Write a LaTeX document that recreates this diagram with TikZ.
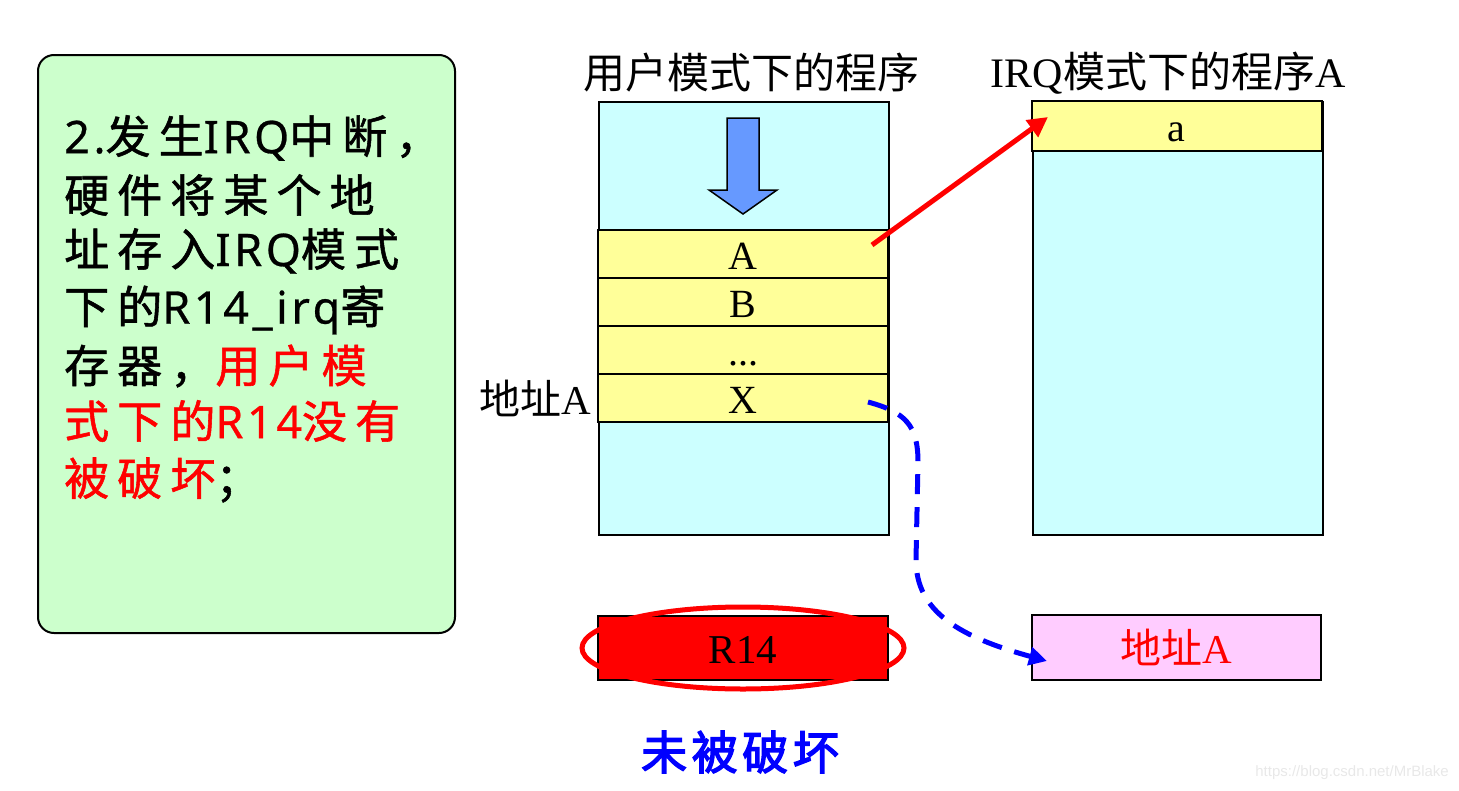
\documentclass[tikz,border=0pt]{standalone}
\usepackage{fontspec}
\setmainfont{Liberation Serif}
\newfontfamily\cjk{Noto Sans CJK SC}
\newfontfamily\cjkw[LetterSpace=18,FakeBold=1.2]{Noto Sans CJK SC}
\newfontfamily\cjkb[LetterSpace=10,FakeBold=3]{Noto Sans CJK SC}
\newfontfamily\latw[LetterSpace=8,FakeBold=0.6]{Noto Sans}
\newfontfamily\wmfont{Liberation Sans}
\usetikzlibrary{shapes.geometric,arrows.meta}
\definecolor{boxgreen}{HTML}{CCFFCC}
\definecolor{boxcyan}{HTML}{CCFFFF}
\definecolor{rowyellow}{HTML}{FFFF99}
\definecolor{boxpink}{HTML}{FFCCFF}
\definecolor{arrowblue}{HTML}{6699FF}
\definecolor{wm}{HTML}{E8E8E8}
\newcommand{\latin}[1]{{\latw\fontsize{45}{45}\selectfont #1}}
\tikzset{
  membox/.style={draw, line width=2pt, fill=boxcyan, anchor=north west, inner sep=0pt, minimum width=290pt},
  rowbox/.style={draw, line width=2pt, fill=rowyellow, inner sep=0pt, minimum width=290pt, minimum height=48pt, text height=30pt, text depth=0pt, font=\fontsize{40}{40}\selectfont},
  ltext/.style={anchor=west, inner sep=0pt, font=\fontsize{45}{45}\cjkw},
  title/.style={inner sep=0pt, font=\fontsize{42}{42}\selectfont},
}
\begin{document}
\begin{tikzpicture}[x=1pt,y=-1pt]
\useasboundingbox (0,0) rectangle (1459,790);
% left explanation box
\node[draw, line width=2pt, fill=boxgreen, rounded corners=16pt, anchor=north west, minimum width=417pt, minimum height=578pt, inner sep=0pt] (note) at (37,54) {};
\node[ltext] (l1) at (64,138) {\latin{2.}发生\latin{IRQ}中断，};
\node[ltext] (l2) at (64,195) {硬件将某个地};
\node[ltext] (l3) at (64,251) {址存入\latin{IRQ}模式};
\node[ltext] (l4) at (64,310) {下的\latin{R14\_irq}寄};
\node[ltext] (l5) at (64,366) {存器，\textcolor{red}{用户模}};
\node[ltext, text=red] (l6) at (64,421) {式下的\latin{R14}没有};
\node[ltext] (l7) at (64,480) {\textcolor{red}{被破坏}；};
% titles
\node[title] (t1) at (751,73) {\cjk 用户模式下的程序};
\node[title] (t2) at (1168,73) {IRQ{\cjk 模式下的程序}A};
% user program memory
\node[membox, minimum height=433pt] (prog) at (598,101) {};
\node[rowbox] (rA) at (743,254) {A};
\node[rowbox] (rB) at (743,302) {B};
\node[rowbox] (rD) at (743,350) {...};
\node[rowbox] (rX) at (743,398) {X};
\node[inner sep=0pt, anchor=east, font=\fontsize{41}{41}\selectfont] (addrL) at (591,398) {{\cjk 地址}A};
% blue flow arrow
\draw[fill=arrowblue, line width=1.5pt, line join=miter] (727,118) -- (759,118) -- (759,190) -- (777,190) -- (743,214) -- (709,190) -- (727,190) -- cycle;
% IRQ program memory
\node[membox, minimum height=433pt] (irq) at (1032,101) {};
\node[rowbox, minimum height=50pt] (ra) at (1176.5,126) {a};
% registers
\node[draw, line width=2pt, fill=red, inner sep=0pt, minimum width=290pt, minimum height=64pt, text height=30pt, text depth=0pt, font=\fontsize{41}{41}\selectfont] (r14) at (743,648) {R14};
\node[draw=red, line width=5pt, ellipse, inner sep=0pt, minimum width=322pt, minimum height=82pt] (ring) at (743,648) {};
\node[draw, line width=2pt, fill=boxpink, inner sep=0pt, minimum width=289pt, minimum height=65pt, text=red, font=\fontsize{41}{41}\selectfont] (lr) at (1176.5,647.5) {{\cjk 地址}A};
\node[inner sep=0pt, text=blue, font=\fontsize{46}{46}\cjkb] (ok) at (740,752) {未被破坏};
% connectors
\coordinate (redS) at (872,245);
\coordinate (redE) at (1048,117);
\draw[red, line width=5pt, -{Triangle[length=20pt,width=20pt]}] (redS) -- (redE);
\coordinate (blueS) at (868,402);
\coordinate (blueE) at (1047,661);
\draw[blue, line width=5pt, dash pattern=on 20pt off 13pt, -{Triangle[length=18pt,width=18pt]}]
  (blueS) .. controls (905,412) and (918,425) .. (918,462) -- (916,560)
  .. controls (916,612) and (960,637) .. (blueE);
% watermark
\node[inner sep=0pt, text=wm, anchor=east, font=\fontsize{15}{15}\wmfont] (wmk) at (1449,773) {https://blog.csdn.net/MrBlake};
\end{tikzpicture}
\end{document}
